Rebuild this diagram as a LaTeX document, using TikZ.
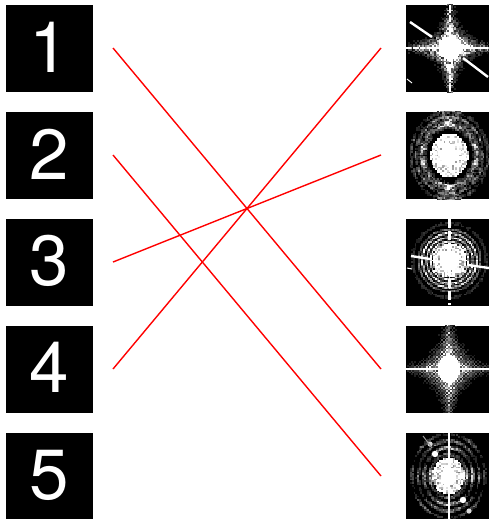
\documentclass[tikz,border=0pt]{standalone}
\usepackage{fontspec}
\setmainfont{TeX Gyre Heros}
\tikzset{
  numbox/.style={fill=black,draw=none,minimum width=87pt,minimum height=87pt,inner sep=0pt,text=white,font=\fontsize{71}{71}\selectfont},
  specbox/.style={fill=black,draw=none,minimum width=83pt,minimum height=87pt,inner sep=0pt},
  match/.style={draw=red,line width=1.4pt}
}
\newcommand{\dg}[1]{\raisebox{2.5pt}{#1}}
\pgfmathdeclarefunction{gs}{3}{\pgfmathparse{exp(-min(((#1-#2)/#3)^2,15))}}
% pixel field: centre x, centre y, y stretch, brightness expression using \dx \dy \e \nz
\newcommand{\field}[4]{%
  \foreach \i in {-24,...,24}{%
    \foreach \j in {-26,...,26}{%
      \pgfmathsetmacro{\dx}{1.7*\i}%
      \pgfmathsetmacro{\dy}{1.7*\j}%
      \pgfmathsetmacro{\e}{sqrt(\dx*\dx+(\dy/#3)*(\dy/#3))}%
      \pgfmathsetmacro{\nz}{rnd}%
      \pgfmathtruncatemacro{\val}{100*min(1,max(0,#4))}%
      \ifnum\val>10
        \fill[white!\val!black] ({#1+\dx-.85},{#2+\dy-.85}) rectangle +(1.75,1.75);
      \fi
    }}}
\begin{document}
\begin{tikzpicture}[x=1pt,y=-1pt]
\useasboundingbox (0,0) rectangle (489,519);
\pgfmathsetseed{4242}
\node[numbox] (n1) at (49.5,48.5) {\dg{1}};
\node[numbox] (n2) at (49.5,155.5) {\dg{2}};
\node[numbox] (n3) at (49.5,262) {\dg{3}};
\node[numbox] (n4) at (49.5,369) {\dg{4}};
\node[numbox] (n5) at (49.5,476) {\dg{5}};
\node[specbox] (s1) at (447.5,48.5) {};
\node[specbox] (s2) at (447.5,155.5) {};
\node[specbox] (s3) at (447.5,262) {};
\node[specbox] (s4) at (447.5,369) {};
\node[specbox] (s5) at (447.5,476) {};
% spectrum 1
\begin{scope}
\clip (s1.south west) rectangle (s1.north east);
\field{450}{48}{1}{(\e<12?1:0)+(6*exp(-abs(\dx*\dy)/110-\e/24))*(.12+\nz)*(.7+.3*cos(\dx*110)*cos(\dy*110))}
\draw[white,line width=2.4pt] (410,22) -- (432,37);
\draw[white,line width=2.4pt] (463,58) -- (488,77);
\draw[white,line width=1pt] (407,79) -- (412,83);
\draw[white,line width=1.3pt,dash pattern=on 5pt off 2pt] (406,48) -- (489,48);
\draw[white,line width=1.6pt,dash pattern=on 7pt off 3pt] (450,5) -- (450,92);
\end{scope}
% spectrum 2
\begin{scope}
\clip (s2.south west) rectangle (s2.north east);
\field{449.5}{155.5}{1.15}{(\e<9?1:0)+(\e<19?(\e>=9?.6+1.2*\nz:0):0)+(.85*gs(\e,27,3.4)+.5*gs(\e,33.5,1.6)+.42*gs(\e,38.5,1.8)+.5*gs(abs(\dx),0,7)*(\e>25?1:0))*(.2+1.2*\nz)*(.75+.35*cos(\dx*190)*cos(\dy*190))}
\end{scope}
% spectrum 3
\begin{scope}
\clip (s3.south west) rectangle (s3.north east);
\field{449.5}{260.5}{1}{(\e<10?1:0)+(\e<17?(\e>=10?.55+1.2*\nz:0):0)+(1.1*gs(\e,19,1.1)+.95*gs(\e,23,1.1)+.95*gs(\e,27,1.1)+.45*gs(\e,31,1.1)+.2*gs(\e,37,2))*(.5+.8*\nz)}
\draw[white,line width=2.6pt,dash pattern=on 9pt off 3pt] (449.5,219) -- (449.5,305);
\draw[white,line width=2.4pt] (411,256) -- (430,259);
\draw[white,line width=2.4pt] (468,265) -- (489,268);
\draw[white,line width=1pt] (407,268) -- (412,269);
\end{scope}
% spectrum 4
\begin{scope}
\clip (s4.south west) rectangle (s4.north east);
\field{449}{369}{1.3}{(\e<11?1:0)+(3.2*exp(-abs(\dx*\dy)/170-\e/22))*(.4+.6*\nz)*(.7+.4*cos(\dx*90+\dy*90))}
\draw[white,line width=1.8pt] (406,369) -- (489,369);
\end{scope}
% spectrum 5
\begin{scope}
\clip (s5.south west) rectangle (s5.north east);
\field{448.5}{476}{1.15}{(\e<8?1:0)+(\e<16?(\e>=8?.5+1.1*\nz:0):0)+(.9*gs(\e,18.5,1.8)+.8*gs(\e,24.5,1.7)+.55*gs(\e,30.5,1.5)+.45*gs(\e,36.5,1.5))*(.25+1*\nz)*(.7+.4*cos(\dy*200))}
\draw[white,line width=2.4pt] (449,433) -- (449,519);
\fill[white] (435,454) circle (3.2);
\fill[white!85!black] (430,444) circle (2.6);
\fill[white] (463,500) circle (3.2);
\fill[white!85!black] (469,511) circle (2.6);
\draw[white!60!black,line width=1pt] (423,436) -- (432,448);
\end{scope}
\coordinate (l1) at (113,48);
\coordinate (l2) at (113,155);
\coordinate (l3) at (113,262);
\coordinate (l4) at (113,369);
\coordinate (r1) at (381,48);
\coordinate (r2) at (381,155);
\coordinate (r4) at (381,369);
\coordinate (r5) at (381,476);
\draw[match] (l1) -- (r4);
\draw[match] (l2) -- (r5);
\draw[match] (l3) -- (r2);
\draw[match] (l4) -- (r1);
\end{tikzpicture}
\end{document}
